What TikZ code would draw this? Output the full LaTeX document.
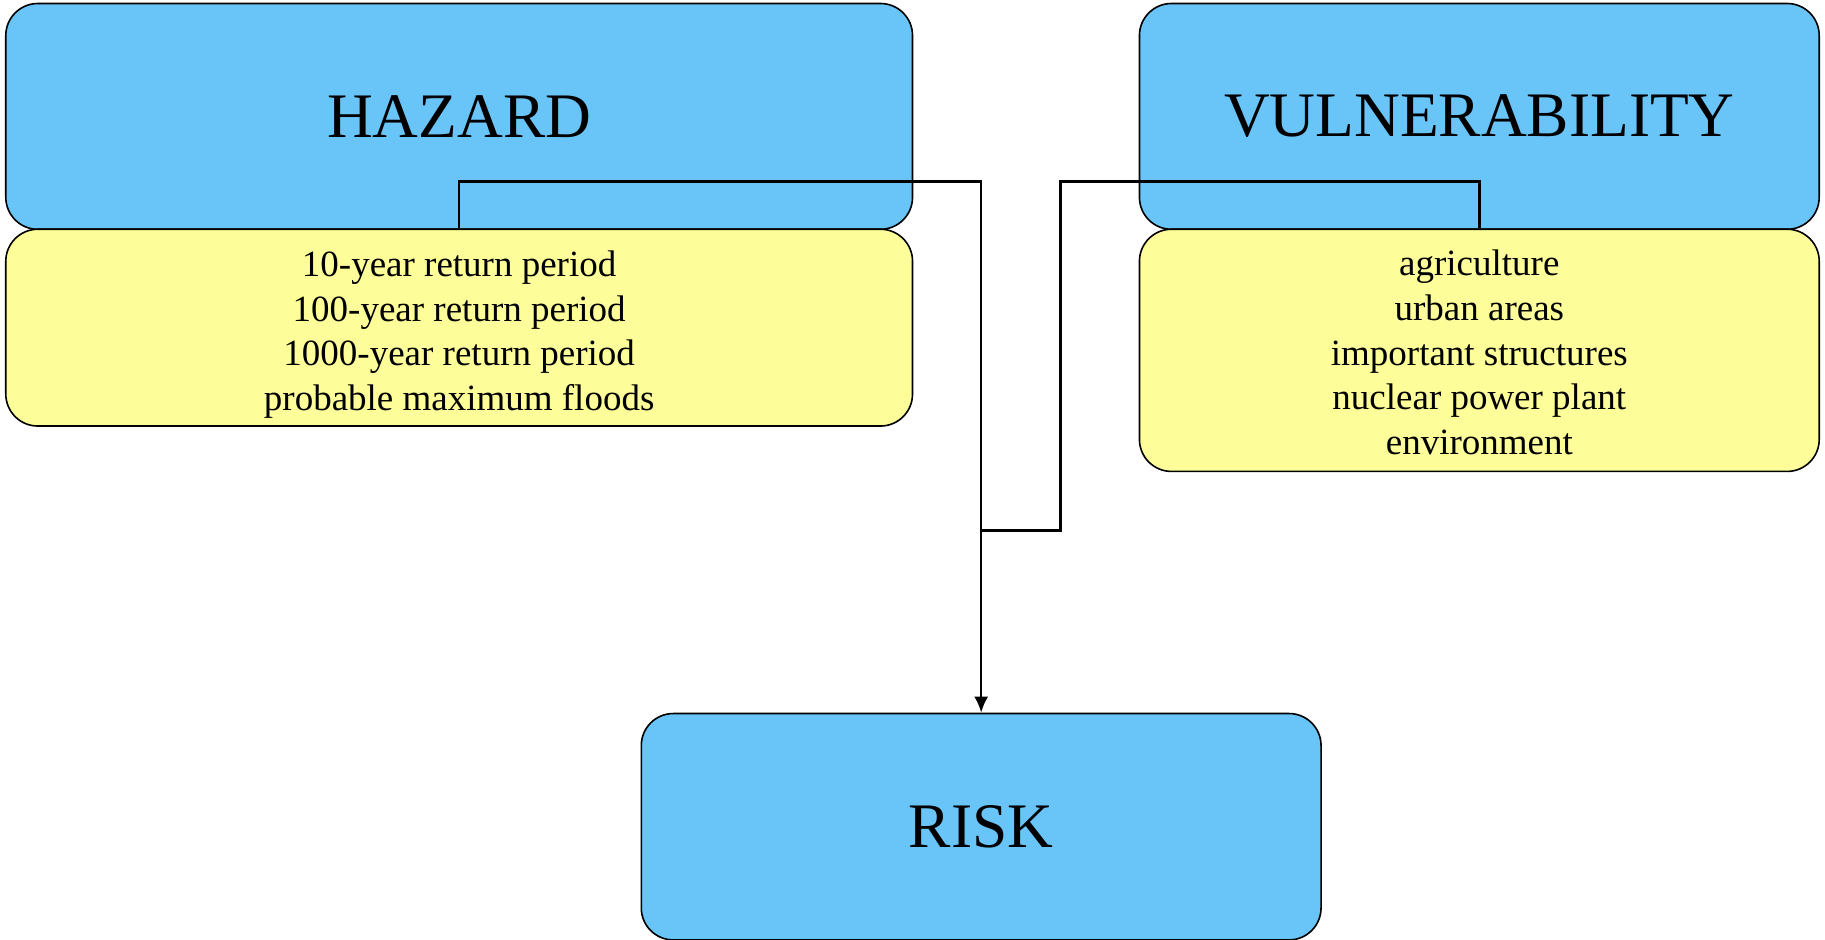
\documentclass[tikz,border=0pt]{standalone}
\usepackage{fontspec}
\setmainfont{Liberation Serif}
\usepackage{tikz}
\usetikzlibrary{calc,shapes,arrows.meta}
\definecolor{boxblue}{RGB}{105,196,247}
\definecolor{boxyellow}{RGB}{253,253,153}
\tikzstyle{bluebox}=[rectangle,rounded corners=16pt,draw=black,fill=boxblue,
                     line width=0.8pt,font=\fontsize{31.7}{38}\selectfont,inner sep=0pt]
\tikzstyle{yellowbox}=[rectangle,rounded corners=16pt,draw=black,fill=boxyellow,
                       line width=0.8pt,font=\fontsize{18.5}{22.3}\selectfont,
                       align=center,inner sep=0pt]
\tikzstyle{link}=[line width=1.3pt]
\newcommand\linkrow{156}
\newcommand\topstrut[1]{\rule{0pt}{#1}}

\begin{document}
\begin{tikzpicture}[x=0.582pt,y=-0.582pt]
    \useasboundingbox (0,0) rectangle (1568,807);
    % hazard column
    \node [bluebox,minimum width=453.4pt,minimum height=112.9pt] (hazard) at (394.5,100) {HAZARD};
    \node [yellowbox,minimum width=453.4pt,minimum height=98.4pt] (hazlist) at (394.5,281.5) {
        \topstrut{19.6pt}10-year return period \\ 100-year return period \\
        1000-year return period \\ probable maximum floods
    };
    % vulnerability column
    \node [bluebox,minimum width=339.9pt,minimum height=112.9pt] (vulner) at (1271,100) {VULNERABILITY};
    \node [yellowbox,minimum width=339.9pt,minimum height=121.1pt] (vullist) at (1271,301) {
        \topstrut{15pt}agriculture \\ urban areas \\ important structures \\
        nuclear power plant \\ environment
    };
    % result
    \node [bluebox,minimum width=339.9pt,minimum height=113.2pt] (risk) at (843,710.3) {RISK};

    \coordinate (toprow) at (0,\linkrow);
    \coordinate (joint) at (843,456);
    \coordinate (vulturn) at (911,456);
    \draw [link,-{Latex[length=8pt,width=7pt]}] (hazlist.north) -- (hazlist.north |- toprow) -| (risk.north);
    \draw [link] (vullist.north) -- (vullist.north |- toprow) -| (vulturn) -- (joint);
\end{tikzpicture}
\end{document}
